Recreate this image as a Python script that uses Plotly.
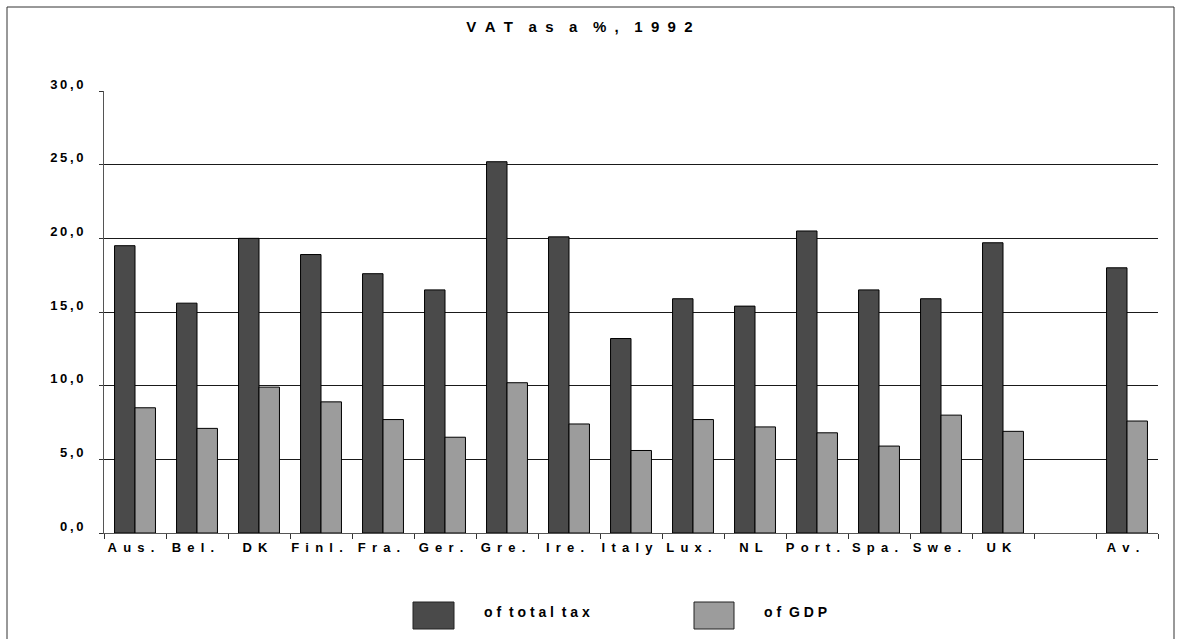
import plotly.graph_objects as go

# ---- data ----
countries = ["Aus.", "Bel.", "DK", "Finl.", "Fra.", "Ger.", "Gre.", "Ire.", "Italy",
             "Lux.", "NL", "Port.", "Spa.", "Swe.", "UK", " ", "Av."]
of_total_tax = [19.5, 15.6, 20.0, 18.9, 17.6, 16.5, 25.2, 20.1, 13.2,
                15.9, 15.4, 20.5, 16.5, 15.9, 19.7, None, 18.0]
of_gdp = [8.5, 7.1, 9.9, 8.9, 7.7, 6.5, 10.2, 7.4, 5.6,
          7.7, 7.2, 6.8, 5.9, 8.0, 6.9, None, 7.6]
y_ticks = [0, 5, 10, 15, 20, 25, 30]
y_tick_labels = ["0,0", "5,0", "10,0", "15,0", "20,0", "25,0", "30,0"]
series_names = ["of total tax", "of GDP"]
title_text = "VAT as a %, 1992"

# ---- style ----
W, H = 1182, 639
L, R, T, B = 104, 24, 91, 106
DARK = "#4a4a4a"
LIGHT = "#9c9c9c"
FONT = "Liberation Sans, Arial, sans-serif"
NB = "\u00a0"
TH = "\u2009"


def spaced(s, sep=TH, wsep=None):
    if wsep is None:
        wsep = sep + NB
    return wsep.join(sep.join(list(w)) for w in s.split(" "))


pw = W - L - R
ph = H - T - B


def px_x(x):
    return (x - L) / pw


def px_y(y):
    return (H - B - y) / ph


fig = go.Figure()
fig.add_trace(go.Bar(x=countries, y=of_total_tax, name=series_names[0],
                     marker=dict(color=DARK, line=dict(color="#000", width=1)),
                     showlegend=False))
fig.add_trace(go.Bar(x=countries, y=of_gdp, name=series_names[1],
                     marker=dict(color=LIGHT, line=dict(color="#000", width=1)),
                     showlegend=False))

fig.update_layout(
    width=W, height=H,
    margin=dict(l=L, r=R, t=T, b=B),
    paper_bgcolor="white", plot_bgcolor="white",
    barmode="group", bargap=0.34, bargroupgap=0,
    font=dict(family=FONT, size=13, color="#000"),
    title=dict(text="<b>" + spaced(title_text, NB + NB, NB * 3 + TH) + "</b>",
               x=579.5 / W, xanchor="center", y=1 - 27 / H, yanchor="middle",
               font=dict(family=FONT, size=15, color="#000")),
)

fig.update_yaxes(range=[0, 30], tickvals=y_ticks,
                 ticktext=["<b>" + spaced(t) + "</b>" for t in y_tick_labels],
                 showgrid=True, gridcolor="#1a1a1a", gridwidth=1,
                 showline=True, linecolor="#555", linewidth=1,
                 ticks="outside", ticklen=4, tickcolor="#333",
                 ticklabelstandoff=13, ticklabelshift=-7, zeroline=False,
                 tickfont=dict(family=FONT, size=13))
fig.update_xaxes(type="category", categoryorder="array", categoryarray=countries,
                 tickvals=countries,
                 ticktext=["<b>" + spaced(c, NB + TH) + "</b>" for c in countries],
                 tickangle=0,
                 showline=True, linecolor="#555", linewidth=1,
                 ticks="outside", tickson="boundaries", ticklen=5, tickcolor="#333",
                 ticklabelstandoff=2, ticklabelshift=-4,
                 showgrid=False, tickfont=dict(family=FONT, size=13))

# outer border
fig.add_shape(type="rect", xref="paper", yref="paper",
              x0=px_x(7), x1=px_x(1174), y0=px_y(645), y1=px_y(7),
              line=dict(color="#333", width=1), fillcolor="rgba(0,0,0,0)", layer="below")

# legend (manual)
legend_items = [(series_names[0], DARK, 413, 454, 482), (series_names[1], LIGHT, 694, 734, 762)]
for name, col, x0, x1, tx in legend_items:
    fig.add_shape(type="rect", xref="paper", yref="paper",
                  x0=px_x(x0), x1=px_x(x1), y0=px_y(629), y1=px_y(602),
                  line=dict(color="#222", width=1), fillcolor=col)
    fig.add_annotation(xref="paper", yref="paper", x=px_x(tx), y=px_y(612),
                       xanchor="left", yanchor="middle", showarrow=False,
                       text="<b>" + spaced(name, NB, NB * 2) + "</b>",
                       font=dict(family=FONT, size=14, color="#000"))

fig.write_html("out.html", config={"displayModeBar": False},
               post_script="document.body.style.margin='0';"
                           "document.documentElement.style.overflow='hidden';")
